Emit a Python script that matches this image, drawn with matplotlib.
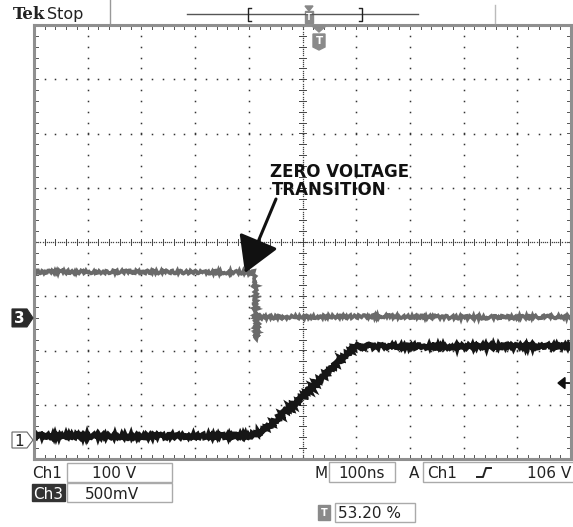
import matplotlib
matplotlib.use("Agg")
import matplotlib.pyplot as plt
from matplotlib.patches import Rectangle, Polygon
import numpy as np

# Waveforms, in screen divisions (x: 0..10, y: -4..4)
ch1_t = [0.0, 2.0, 4.02, 4.25, 5.0, 5.98, 8.0, 10.0]
ch1_v = [-3.57, -3.58, -3.57, -3.50, -2.85, -1.92, -1.93, -1.92]

ch3_t = [0.0, 2.0, 4.10, 4.12, 4.14, 4.17, 4.22, 5.0, 6.5, 8.0, 10.0]
ch3_v = [-0.55, -0.55, -0.56, -0.70, -1.79, -1.34, -1.39, -1.38, -1.37, -1.39, -1.38]

ch1_label = ["Ch1", "100 V"]
ch3_label = ["Ch3", "500mV"]
timebase = "100ns"
trigger = ["Ch1", "106 V"]
trig_pos = "53.20 %"
trig_level = -2.60
ch1_ground = -3.65
ch3_ground = -1.40

W, H = 573, 527
fig = plt.figure(figsize=(W / 100, H / 100), dpi=100, facecolor="white")

# screen area in pixels
x0, x1, y0, y1 = 34.0, 571.0, 25.0, 459.0
ax = fig.add_axes([x0 / W, 1 - y1 / H, (x1 - x0) / W, (y1 - y0) / H])
ax.set_xlim(0, 10)
ax.set_ylim(-4, 4)
ax.set_xticks([])
ax.set_yticks([])
for s in ax.spines.values():
    s.set_color("#8f8f8f")
    s.set_linewidth(2.2)

# dotted graticule
sub = np.arange(0, 10.01, 0.2)
subv = np.arange(-4, 4.01, 0.2)
for gx in range(1, 10):
    if gx == 5:
        continue
    ax.plot(np.full_like(subv, gx), subv, ls="none", marker="s", ms=1.1, color="#333333", mew=0)
for gy in range(-3, 4):
    if gy == 0:
        continue
    ax.plot(sub, np.full_like(sub, gy), ls="none", marker="s", ms=1.1, color="#333333", mew=0)

# centre crosshair with minor ticks, border ticks
ax.plot(np.arange(0, 10.01, 0.04), np.zeros(251), ls="none", marker="s", ms=0.9, color="#444444", mew=0)
ax.plot(np.full(201, 5.0), np.arange(-4, 4.01, 0.04), ls="none", marker="s", ms=0.9, color="#444444", mew=0)
for t in sub:
    ax.plot([t, t], [-0.06, 0.06], color="#444444", lw=0.7)
    ax.plot([t, t], [-4, -3.92], color="#555555", lw=0.7)
    ax.plot([t, t], [4, 3.92], color="#555555", lw=0.7)
for t in subv:
    ax.plot([4.94, 5.06], [t, t], color="#444444", lw=0.7)
    ax.plot([0, 0.07], [t, t], color="#555555", lw=0.7)
    ax.plot([10, 9.93], [t, t], color="#555555", lw=0.7)

# traces (sketch params give the noisy look of the acquisition)
l3, = ax.plot(ch3_t, ch3_v, color="#6a6a6a", lw=2.6, solid_joinstyle="miter")
l3.set_sketch_params(scale=1.6, length=4, randomness=3)
l1, = ax.plot(ch1_t, ch1_v, color="#161616", lw=3.6, solid_joinstyle="miter")
l1.set_sketch_params(scale=1.8, length=3, randomness=3)

# overlay in pixel coordinates
ov = fig.add_axes([0, 0, 1, 1], facecolor="none")
ov.set_xlim(0, W)
ov.set_ylim(H, 0)
ov.axis("off")

def ypx(v):
    return y0 + (4 - v) / 8 * (y1 - y0)

# header
ov.text(13, 19, "Tek", fontsize=12, fontweight="bold", family="DejaVu Serif", color="#222222")
ov.text(47, 19, "Stop", fontsize=11.5, family="DejaVu Sans", color="#222222")
ov.plot([110, 110], [0, 23], color="#999999", lw=1)
ov.plot([495, 495], [5, 23], color="#bbbbbb", lw=1)
ov.plot([187, 418], [14, 14], color="#555555", lw=1)
ov.plot([251, 248, 248, 251], [8, 8, 21, 21], color="#222222", lw=1)
ov.plot([359, 362, 362, 359], [8, 8, 21, 21], color="#222222", lw=1)
ov.add_patch(Polygon([[305, 6], [313, 6], [309, 11]], color="#888888"))
ov.add_patch(Rectangle((305, 11), 8, 12, color="#8a8a8a"))
ov.text(309, 17.5, "T", fontsize=6, color="white", ha="center", va="center", fontweight="bold")
# trigger position marker under top border
ov.add_patch(Polygon([[312, 26], [326, 26], [319, 32]], color="#8a8a8a"))
ov.add_patch(Polygon([[313, 34], [325, 34], [325, 47], [319, 50], [313, 47]], color="#8a8a8a"))
ov.text(319, 41, "T", fontsize=7.5, color="white", ha="center", va="center", fontweight="bold")

# channel markers on the left
yg1 = ypx(ch1_ground)
ov.add_patch(Polygon([[12, yg1 - 8], [27, yg1 - 8], [33, yg1], [27, yg1 + 8], [12, yg1 + 8]],
                     facecolor="white", edgecolor="#666666", lw=0.8))
ov.text(19, yg1 + 1, "1", fontsize=11, ha="center", va="center", color="#222222")
yg3 = ypx(ch3_ground)
ov.add_patch(Polygon([[12, yg3 - 9], [27, yg3 - 9], [33, yg3], [27, yg3 + 9], [12, yg3 + 9]],
                     facecolor="#2a2a2a", edgecolor="#2a2a2a", lw=0.8))
ov.text(19, yg3 + 1, "3", fontsize=11, ha="center", va="center", color="white", fontweight="bold")

# trigger level arrow on the right
yt = ypx(trig_level)
ov.add_patch(Polygon([[558, yt], [565, yt - 5.5], [565, yt + 5.5]], color="#111111"))
ov.plot([564, 569], [yt, yt], color="#111111", lw=1.3)

# annotation
ov.text(270, 177, "ZERO VOLTAGE", fontsize=12, fontweight="bold", family="DejaVu Sans", color="#111111")
ov.text(272, 195, "TRANSITION", fontsize=12, fontweight="bold", family="DejaVu Sans", color="#111111")
ov.annotate("", xy=(245, 273), xytext=(276, 199),
            arrowprops=dict(arrowstyle="-|>,head_length=0.85,head_width=0.5", mutation_scale=26,
                            lw=2.2, color="#111111", shrinkA=0, shrinkB=0))

# readouts
fs = 11
ov.text(32, 478, ch1_label[0], fontsize=fs, color="#222222")
ov.add_patch(Rectangle((66.5, 463), 105, 19, fill=False, edgecolor="#aaaaaa", lw=1))
ov.text(114, 478, ch1_label[1], fontsize=fs, ha="center", color="#222222")
ov.add_patch(Rectangle((32, 484), 33, 17, color="#333333"))
ov.text(33, 499, ch3_label[0], fontsize=fs, color="white")
ov.add_patch(Rectangle((66.5, 483), 105, 19, fill=False, edgecolor="#aaaaaa", lw=1))
ov.text(112, 499, ch3_label[1], fontsize=fs, ha="center", color="#222222")

ov.text(314, 478, "M", fontsize=fs, color="#222222")
ov.add_patch(Rectangle((329, 462), 66, 20, fill=False, edgecolor="#aaaaaa", lw=1))
ov.text(362, 478, timebase, fontsize=fs, ha="center", color="#222222")
ov.text(409, 478, "A", fontsize=fs, color="#222222")
ov.add_patch(Rectangle((423, 462), 152, 20, fill=False, edgecolor="#aaaaaa", lw=1))
ov.text(427, 478, trigger[0], fontsize=fs, color="#222222")
ov.plot([477, 483, 486, 491], [477, 477, 468, 468], color="#222222", lw=1.4)
ov.text(571, 478, trigger[1], fontsize=fs, ha="right", color="#222222")

ov.add_patch(Rectangle((318, 505), 12, 15, color="#8a8a8a"))
ov.text(324, 512.5, "T", fontsize=7, color="white", ha="center", va="center", fontweight="bold")
ov.add_patch(Rectangle((335, 503), 80, 19, fill=False, edgecolor="#aaaaaa", lw=1))
ov.text(338, 518, trig_pos, fontsize=fs, color="#222222")

fig.savefig("out.png", dpi=100, facecolor="white")
